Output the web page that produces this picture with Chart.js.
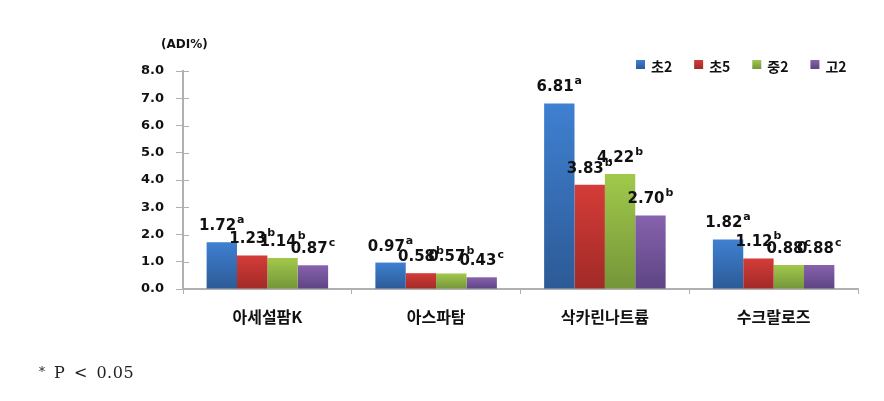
<!DOCTYPE html>
<html>
<head>
<meta charset="utf-8">
<script src="https://cdn.jsdelivr.net/npm/chart.js@4.4.1/dist/chart.umd.min.js"></script>
<style>
  body { margin: 0; background: #fff; }
  #wrap { position: relative; width: 884px; height: 401px; }
  #note { position: absolute; left: 39px; top: 363px; font-family: "DejaVu Serif", "Liberation Serif", serif; font-size: 16px; color: #222; letter-spacing: 0.5px; word-spacing: 3px; }
  #note .ast { font-size: 12px; position: relative; top: -2px; }
</style>
</head>
<body>
<div id="wrap">
  <canvas id="grafico" width="884" height="401"></canvas>
  <div id="note"><span class="ast">*</span> P &lt; 0.05</div>
</div>
<script>
// categorias e séries
const categorias = ['아세설팜K', '아스파탐', '삭카린나트륨', '수크랄로즈'];
const series = ['초2', '초5', '중2', '고2'];
const valores초2 = [1.72, 0.97, 6.81, 1.82];
const valores초5 = [1.23, 0.58, 3.83, 1.12];
const valores중2 = [1.14, 0.57, 4.22, 0.88];
const valores고2 = [0.87, 0.43, 2.70, 0.88];
const letras초2 = ['a', 'a', 'a', 'a'];
const letras초5 = ['b', 'b', 'b', 'b'];
const letras중2 = ['b', 'b', 'b', 'c'];
const letras고2 = ['c', 'c', 'b', 'c'];
const ticksY = ['0.0', '1.0', '2.0', '3.0', '4.0', '5.0', '6.0', '7.0', '8.0'];

// cores: topo claro, base escura
const cores = [
    ['#3f80d1', '#2c5a96'],
    ['#d43c38', '#a12a27'],
    ['#a1c94b', '#749539'],
    ['#8762ad', '#5d4483']
];

function gradienteBarra(ctx, i) {
    const chart = ctx.chart;
    const area = chart.chartArea;
    if (!area || ctx.parsed === undefined) return cores[i][0];
    const yTopo = chart.scales.y.getPixelForValue(ctx.parsed.y);
    const g = chart.ctx.createLinearGradient(0, yTopo, 0, area.bottom);
    g.addColorStop(0, cores[i][0]);
    g.addColorStop(1, cores[i][1]);
    return g;
}

const todosValores = [valores초2, valores초5, valores중2, valores고2];
const todasLetras = [letras초2, letras초5, letras중2, letras고2];

const fonteValor = 'bold 15px "DejaVu Sans", Verdana, sans-serif';
const fonteLetra = 'bold 11px "DejaVu Sans", Verdana, sans-serif';

// rótulos com letra sobrescrita, unidade e legenda
const pluginRotulos = {
    id: 'rotulos',
    afterDatasetsDraw(chart) {
        const c = chart.ctx;
        const area = chart.chartArea;
        c.save();
        c.fillStyle = '#111';
        c.textBaseline = 'alphabetic';
        chart.data.datasets.forEach((ds, i) => {
            const meta = chart.getDatasetMeta(i);
            meta.data.forEach((bar, j) => {
                const txt = todosValores[i][j].toFixed(2);
                const sup = todasLetras[i][j];
                c.font = fonteValor;
                const w1 = c.measureText(txt).width;
                c.font = fonteLetra;
                const w2 = c.measureText(sup).width;
                const x0 = bar.x - (w1 + w2 + 1) / 2;
                const yb = bar.y - 12;
                c.font = fonteValor;
                c.textAlign = 'left';
                c.fillText(txt, x0, yb);
                c.font = fonteLetra;
                c.fillText(sup, x0 + w1 + 1, yb - 7);
            });
        });

        // unidade
        c.font = 'bold 12px "DejaVu Sans", Verdana, sans-serif';
        c.textAlign = 'left';
        c.fillText('(ADI%)', 161, 48);

        // marcas internas do eixo y
        c.strokeStyle = '#b0b0b0';
        c.lineWidth = 1;
        const sy = chart.scales.y;
        sy.ticks.forEach(t => {
            const y = Math.round(sy.getPixelForValue(t.value)) + 0.5;
            c.beginPath();
            c.moveTo(area.left, y);
            c.lineTo(area.left + 6, y);
            c.stroke();
        });

        // legenda
        let x = area.right - 222;
        const yLeg = 60;
        series.forEach((nome, i) => {
            const g = c.createLinearGradient(0, yLeg, 0, yLeg + 9);
            g.addColorStop(0, cores[i][0]);
            g.addColorStop(1, cores[i][1]);
            c.fillStyle = g;
            c.fillRect(x, yLeg, 9, 9);
            c.fillStyle = '#111';
            c.font = 'bold 14px "Noto Sans CJK KR", sans-serif';
            c.textBaseline = 'middle';
            c.fillText(nome, x + 15, yLeg + 7);
            x += 15 + c.measureText(nome).width + 22;
        });
        c.restore();
    }
};

const datasets = series.map((nome, i) => ({
    label: nome,
    data: todosValores[i],
    backgroundColor: ctx => gradienteBarra(ctx, i),
    borderWidth: 0,
    categoryPercentage: 0.72,
    barPercentage: 1.0
}));

new Chart(document.getElementById('grafico'), {
    type: 'bar',
    data: { labels: categorias, datasets: datasets },
    plugins: [pluginRotulos],
    options: {
        responsive: false,
        animation: false,
        layout: { padding: { top: 71, right: 26, left: 0, bottom: 0 } },
        plugins: {
            legend: { display: false },
            tooltip: { enabled: false }
        },
        scales: {
            x: {
                grid: {
                    offset: true,
                    drawOnChartArea: false,
                    drawTicks: true,
                    tickLength: 5,
                    color: '#b0b0b0'
                },
                border: { color: '#b0b0b0', width: 2 },
                ticks: {
                    color: '#111',
                    padding: 13,
                    font: { family: '"Noto Sans CJK KR", sans-serif', size: 16, weight: 'bold' }
                },
                afterFit: s => { s.height = 112; }
            },
            y: {
                min: 0,
                max: 8,
                grid: {
                    drawOnChartArea: false,
                    drawTicks: true,
                    tickLength: 7,
                    color: '#b0b0b0'
                },
                border: { color: '#b0b0b0', width: 2 },
                ticks: {
                    stepSize: 1,
                    color: '#111',
                    padding: 12,
                    font: { family: '"DejaVu Sans", Verdana, sans-serif', size: 13, weight: 'bold' },
                    callback: (v, idx) => ticksY[idx]
                },
                afterFit: s => { s.width = 183; }
            }
        }
    }
});
</script>
</body>
</html>
